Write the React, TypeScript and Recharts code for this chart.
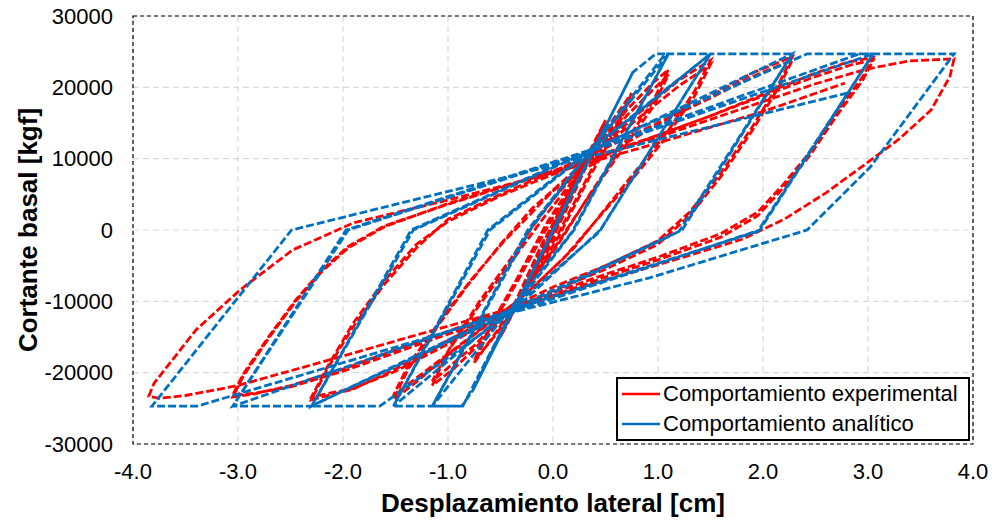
import {
  CartesianGrid,
  Legend,
  Line,
  LineChart,
  ReferenceArea,
  XAxis,
  YAxis,
} from "recharts";

// ticks
const xTicks = [-4, -3, -2, -1, 0, 1, 2, 3, 4];
const yTicks = [-30000, -20000, -10000, 0, 10000, 20000, 30000];

// Comportamiento experimental, por amplitud (desplazamiento cm, cortante kgf)
const exp025 = [
  [0, 0], [0.25, 8600], [0.12, 4200], [-0.25, -8200], [-0.12, -3800],
  [0.25, 8400], [0.12, 4000], [-0.25, -8000], [-0.12, -3600],
];
const exp050 = [
  [0.2, 6800], [0.5, 15400], [0.35, 10500], [0.1, 2500], [-0.2, -6500],
  [-0.5, -15000], [-0.35, -10200], [-0.1, -2000], [0.2, 6600], [0.5, 15000],
  [0.35, 10000], [0.1, 2000], [-0.2, -7000], [-0.5, -14600], [-0.35, -9800],
  [-0.1, -1800],
];
const exp075 = [
  [0.2, 6000], [0.5, 14000], [0.75, 19200], [0.6, 14500], [0.35, 8000],
  [0.05, -500], [-0.3, -9000], [-0.55, -14500], [-0.75, -18600], [-0.6, -13800],
  [-0.35, -7500], [-0.05, 500], [0.3, 9000], [0.55, 14500], [0.75, 18800],
  [0.6, 14000], [0.35, 7500], [0.05, -1000], [-0.3, -9500], [-0.55, -14800],
  [-0.75, -18300], [-0.6, -13500], [-0.35, -7000],
];
const exp110 = [
  [-0.05, 1200], [0.3, 9000], [0.7, 16800], [0.95, 20600], [1.1, 22500],
  [0.95, 18000], [0.65, 11500], [0.35, 5000], [0.05, -2000], [-0.35, -10000],
  [-0.7, -16000], [-0.95, -19500], [-1.15, -21800], [-1.0, -17000], [-0.7, -10500],
  [-0.4, -4500], [-0.1, 1500], [0.3, 9000], [0.7, 16000], [1.1, 21800],
  [0.95, 17200], [0.6, 10000], [0.3, 3800], [0, -2800], [-0.35, -10200],
  [-0.75, -16200], [-1.15, -21200], [-0.98, -16500], [-0.7, -10000], [-0.4, -4000],
];
const exp150 = [
  [-0.1, 2500], [0.3, 9500], [0.8, 16200], [1.2, 21000], [1.5, 23800],
  [1.35, 19500], [1.1, 14000], [0.8, 8500], [0.5, 3000], [0.2, -2500],
  [-0.2, -8200], [-0.6, -13000], [-1.0, -17500], [-1.3, -21300], [-1.52, -23800],
  [-1.38, -19500], [-1.1, -13500], [-0.8, -7500], [-0.5, -2000], [-0.2, 3000],
  [0.3, 9500], [0.8, 15500], [1.2, 20200], [1.5, 23200], [1.35, 18800],
  [1.05, 12500], [0.75, 7000], [0.45, 2000], [0.1, -4000], [-0.3, -9500],
  [-0.7, -14000], [-1.1, -18500], [-1.52, -23200], [-1.38, -19000], [-1.08, -12800],
  [-0.78, -7000], [-0.48, -1800],
];
const exp228 = [
  [0, 5500], [0.5, 10500], [1.0, 14800], [1.5, 18800], [1.9, 22000],
  [2.28, 24300], [2.15, 20500], [1.9, 14500], [1.6, 8000], [1.3, 2500],
  [1.0, -1500], [0.5, -5000], [0, -8000], [-0.5, -11500], [-1.0, -15500],
  [-1.5, -19500], [-1.9, -22300], [-2.3, -23800], [-2.15, -19500], [-1.9, -13500],
  [-1.6, -7500], [-1.3, -2500], [-1.0, 1500], [-0.5, 5000], [0, 8200],
  [0.5, 11500], [1.0, 15000], [1.5, 18500], [1.9, 21500], [2.28, 23800],
  [2.15, 20000], [1.9, 14000], [1.6, 7500], [1.3, 2000], [1.0, -2000],
  [0.5, -5500], [0, -8500], [-0.5, -12000], [-1.0, -16000], [-1.5, -19800],
  [-1.9, -22200], [-2.3, -23400], [-2.15, -19200], [-1.9, -13000], [-1.6, -7000],
  [-1.3, -2000],
];
const exp305 = [
  [-1.0, 1200], [-0.5, 4800], [0, 7800], [0.5, 10500], [1.0, 13300],
  [1.5, 16000], [2.0, 19000], [2.5, 22000], [2.8, 23500], [3.05, 24200],
  [2.95, 21500], [2.7, 16500], [2.45, 11000], [2.2, 6500], [1.95, 2500],
  [1.6, -500], [1.0, -3800], [0.5, -6200], [0, -8800], [-0.5, -11500],
  [-1.0, -14200], [-1.5, -16800], [-2.0, -19500], [-2.5, -21800], [-2.85, -23000],
  [-3.05, -23400], [-2.95, -20500], [-2.7, -15000], [-2.45, -10000], [-2.2, -5800],
  [-1.95, -2500], [-1.6, 500], [-1.0, 3700], [-0.5, 6000], [0, 8300],
  [0.5, 10800], [1.0, 13300], [1.5, 16000], [2.0, 18800], [2.5, 21500],
  [2.85, 23200], [3.05, 23800], [2.95, 21000], [2.7, 16000], [2.45, 10500],
  [2.2, 6000], [1.95, 2000], [1.6, -1000], [1.0, -4200], [0.5, -6600],
  [0, -9200], [-0.5, -12000], [-1.0, -14600], [-1.5, -17200], [-2.0, -19800],
  [-2.5, -22000], [-2.85, -22900], [-3.05, -23100], [-2.95, -20200], [-2.7, -14800],
  [-2.45, -9800], [-2.2, -5600], [-1.95, -2300], [-1.6, 600],
];
const exp382 = [
  [-1.0, 3600], [-0.5, 5900], [0, 8200], [0.5, 10600], [1.0, 13000],
  [1.5, 15500], [2.0, 18000], [2.5, 20500], [3.0, 22600], [3.4, 23700],
  [3.82, 24000], [3.78, 21500], [3.6, 16800], [3.3, 12800], [3.0, 9500],
  [2.6, 5200], [2.2, 1500], [1.8, -1300], [1.2, -4000], [0.4, -7500],
  [-0.4, -11000], [-1.2, -14300], [-2.2, -18500], [-3.0, -21800], [-3.5, -23200],
  [-3.75, -23600], [-3.85, -23300], [-3.8, -21500], [-3.72, -20000], [-3.4, -14000],
  [-2.98, -8400], [-2.48, -2800], [-1.9, 1000], [-1.0, 4200], [0, 8000],
  [1.0, 12200], [2.0, 16600], [2.78, 20600],
];

// Comportamiento analítico
const ana025 = [[0, 0], [0.25, 7300], [-0.25, -7400], [0.25, 7300], [-0.25, -7400]];
const ana050 = [[0.5, 14600], [-0.5, -14800], [0.5, 14600], [-0.5, -14800]];
const ana075 = [[0.76, 22100], [-0.76, -22400], [0.76, 22100], [-0.76, -22400]];
const ana110 = [
  [0.76, 22100], [0.98, 24700], [1.1, 24700], [0.2, 0], [-0.4, -11500],
  [-0.76, -22400], [-0.87, -24700], [-1.15, -24700], [-0.22, 0], [0.35, 11000],
  [1.1, 24700], [0.18, -300], [-0.42, -11300], [-1.15, -24700], [-0.24, 0],
];
const ana150 = [
  [0.35, 11100], [1.07, 24700], [1.5, 24700], [0.45, 0], [-0.4, -11600],
  [-0.86, -24700], [-1.52, -24700], [-0.6, 0], [0.33, 10800], [1.5, 24700],
  [0.44, -300], [-0.42, -11300], [-1.52, -24700], [-0.62, 0],
];
const ana228 = [
  [0.35, 11200], [1.5, 24700], [2.28, 24700], [1.23, 0], [-0.4, -11600],
  [-1.65, -24700], [-2.3, -24700], [-1.33, 0], [0.33, 10900], [2.28, 24700],
  [1.2, -200], [-0.42, -11300], [-2.3, -24700], [-1.35, 0],
];
const ana305 = [
  [0.35, 11200], [2.42, 24700], [3.05, 24700], [1.97, 0], [-0.4, -11600],
  [-2.31, -24700], [-3.05, -24700], [-1.95, 0], [0.33, 10900], [3.05, 24700],
  [1.95, -200], [-0.42, -11300], [-3.05, -24700], [-1.97, 0],
];
const ana382 = [
  [0.35, 11200], [2.92, 24700], [3.82, 24700], [3.02, 8800], [2.42, 0],
  [0.92, -6700], [-0.4, -11600], [-3.39, -24700], [-3.82, -24700], [-2.49, 0],
  [2.83, 19300],
];

const toPoints = (cycles: number[][][]) =>
  cycles.flat().map(([x, y]) => ({ x, y }));

const experimental = toPoints([exp025, exp050, exp075, exp110, exp150, exp228, exp305, exp382]);
const analitico = toPoints([ana025, ana050, ana075, ana110, ana150, ana228, ana305, ana382]);

const FONT = '"Liberation Sans", Arial, sans-serif';

function LegendBox() {
  const items = [
    { label: "Comportamiento experimental", color: "#FF0000" },
    { label: "Comportamiento analítico", color: "#0070C0" },
  ];
  return (
    <div
      style={{
        boxSizing: "border-box",
        width: 354,
        height: 64,
        border: "2px solid #000",
        background: "#fff",
        fontFamily: FONT,
        fontSize: 22,
        color: "#000",
      }}
    >
      {items.map((it) => (
        <div key={it.label} style={{ display: "flex", alignItems: "center", height: 30, paddingLeft: 4 }}>
          <svg width={41} height={6} style={{ flex: "none" }}>
            <line x1={0} y1={3} x2={38} y2={3} stroke={it.color} strokeWidth={2.5} />
          </svg>
          <span style={{ whiteSpace: "nowrap", lineHeight: "30px" }}>{it.label}</span>
        </div>
      ))}
    </div>
  );
}

export default function App() {
  return (
    <div style={{ width: 992, height: 520, background: "#fff" }}>
      <style>{`body{margin:0;overflow:hidden;}`}</style>
      <LineChart width={992} height={520} margin={{ top: 16, right: 19, bottom: 8, left: 0 }}>
        <CartesianGrid stroke="#d9d9d9" strokeDasharray="6 4" strokeWidth={1.2} />
        <XAxis
          type="number"
          dataKey="x"
          domain={[-4, 4]}
          ticks={xTicks}
          tickFormatter={(v: number) => v.toFixed(1)}
          axisLine={false}
          tickLine={false}
          tickSize={0}
          tickMargin={19}
          height={68}
          tick={{ fill: "#000", fontSize: 22, fontFamily: FONT }}
          label={{
            value: "Desplazamiento lateral [cm]",
            position: "insideBottom",
            offset: 0,
            style: { fill: "#000", fontSize: 26, fontWeight: "bold", fontFamily: FONT },
          }}
        />
        <YAxis
          type="number"
          domain={[-30000, 30000]}
          ticks={yTicks}
          axisLine={false}
          tickLine={false}
          tickSize={0}
          tickMargin={20}
          width={133}
          tick={{ fill: "#000", fontSize: 22, fontFamily: FONT }}
          label={{
            value: "Cortante basal [kgf]",
            angle: -90,
            position: "insideLeft",
            offset: 28,
            style: { textAnchor: "middle", fill: "#000", fontSize: 26, fontWeight: "bold", fontFamily: FONT },
          }}
        />
        <ReferenceArea
          x1={-4}
          x2={4}
          y1={-30000}
          y2={30000}
          fill="none"
          fillOpacity={0}
          stroke="#000"
          strokeDasharray="4 3"
          strokeWidth={1.2}
        />
        <Line
          name="Comportamiento experimental"
          data={experimental}
          dataKey="y"
          type="linear"
          stroke="#FF0000"
          strokeWidth={2.8}
          strokeDasharray="8 3"
          dot={false}
          activeDot={false}
          isAnimationActive={false}
        />
        <Line
          name="Comportamiento analítico"
          data={analitico}
          dataKey="y"
          type="linear"
          stroke="#0070C0"
          strokeWidth={2.8}
          strokeDasharray="8 3"
          dot={false}
          activeDot={false}
          isAnimationActive={false}
        />
        <Legend
          layout="horizontal"
          verticalAlign="middle"
          align="center"
          content={() => <LegendBox />}
          wrapperStyle={{ left: 616, top: 377, width: 354, height: 64 }}
        />
      </LineChart>
    </div>
  );
}
